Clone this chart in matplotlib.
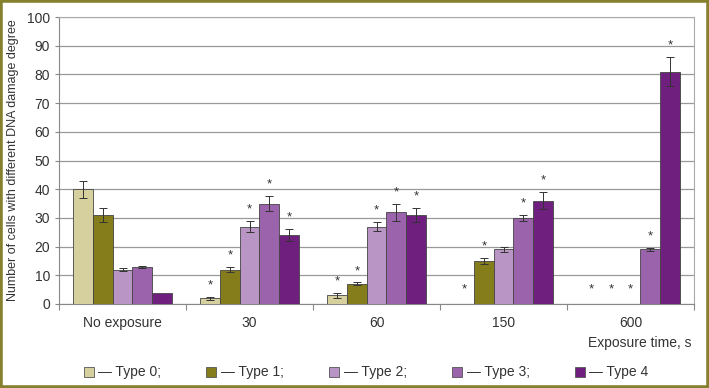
import numpy as np
import matplotlib
matplotlib.use('Agg')
import matplotlib.pyplot as plt
from matplotlib.patches import Rectangle
from matplotlib.lines import Line2D

plt.rcParams['font.family'] = ['Liberation Sans', 'DejaVu Sans']

groups = ['No exposure', '30', '60', '150', '600']
types = ['Type 0;', 'Type 1;', 'Type 2;', 'Type 3;', 'Type 4']
colors = ['#d6cf9e', '#857c1c', '#b995c6', '#9b63ab', '#6f1f7e']

# values per type, across the 5 groups
values = [
    [40, 2, 3, 0, 0],
    [31, 12, 7, 15, 0],
    [12, 27, 27, 19, 0],
    [13, 35, 32, 30, 19],
    [4, 24, 31, 36, 81],
]
errors = [
    [3, 0.5, 1, 0, 0],
    [2.5, 1, 0.5, 1, 0],
    [0.5, 2, 1.5, 1, 0],
    [0.3, 2.5, 3, 1, 0.5],
    [0, 2, 2.5, 3, 5],
]
# significance marks (*)
signif = [
    [0, 1, 1, 1, 1],
    [0, 1, 1, 1, 1],
    [0, 1, 1, 0, 1],
    [0, 1, 1, 1, 1],
    [0, 1, 1, 1, 1],
]

fig = plt.figure(figsize=(7.09, 3.88), dpi=100)
ax = fig.add_axes([0.0832, 0.2165, 0.8958, 0.7395])
txt = '#333333'

x = np.arange(len(groups)) + 0.5
w = 0.155
for i in range(len(types)):
    xs = x + (i - 2) * w
    ax.bar(xs, values[i], w, color=colors[i], edgecolor='#444444', linewidth=0.6, zorder=3)
    for j in range(len(groups)):
        v, e = values[i][j], errors[i][j]
        if e > 0:
            ax.errorbar(xs[j], v, yerr=e, fmt='none', ecolor='#333333', elinewidth=0.7,
                        capsize=3, capthick=0.7, zorder=4)
        if signif[i][j]:
            ys = v + e + 4 if v > 0 else 5
            ax.text(xs[j], ys, '*', ha='center', va='center', fontsize=9.5, color=txt, zorder=5)

ax.set_xlim(0, 5)
ax.set_ylim(0, 100)
ax.set_yticks(range(0, 101, 10))
ax.yaxis.grid(True, color='#999999', linewidth=0.9)
ax.set_axisbelow(True)
ax.tick_params(axis='y', labelsize=10, colors=txt, length=3, width=0.8)
ax.tick_params(axis='y', color='#888888')

ax.set_xticks(range(0, 6))
ax.set_xticklabels([])
ax.tick_params(axis='x', which='major', length=4, width=0.8, color='#888888', direction='out')
ax.set_xticks(x, minor=True)
ax.set_xticklabels(groups, minor=True)
ax.tick_params(axis='x', which='minor', length=0, labelsize=10, colors=txt, pad=9)

for s in ['top', 'right']:
    ax.spines[s].set_color('#aaaaaa')
for s in ['left', 'bottom']:
    ax.spines[s].set_color('#888888')

ax.set_ylabel('Number of cells with different DNA damage degree', fontsize=9, color=txt, labelpad=6)
fig.text(0.976, 0.117, 'Exposure time, s', ha='right', va='center', fontsize=10, color=txt)

handles = [Line2D([], [], marker='s', linestyle='none', markersize=7, markerfacecolor=c,
                  markeredgecolor='#555555', markeredgewidth=0.6) for c in colors]
fig.legend(handles, ['\u2014 ' + t for t in types], loc='center', ncol=5,
           bbox_to_anchor=(0.516, 0.04), frameon=False, fontsize=10, handlelength=0.8,
           handletextpad=0.3, columnspacing=3.2, labelcolor=txt)

fig.patches.append(Rectangle((0, 0), 1, 1, transform=fig.transFigure, fill=False,
                             edgecolor='#85802e', linewidth=4))

fig.savefig('out.png', dpi=100)
